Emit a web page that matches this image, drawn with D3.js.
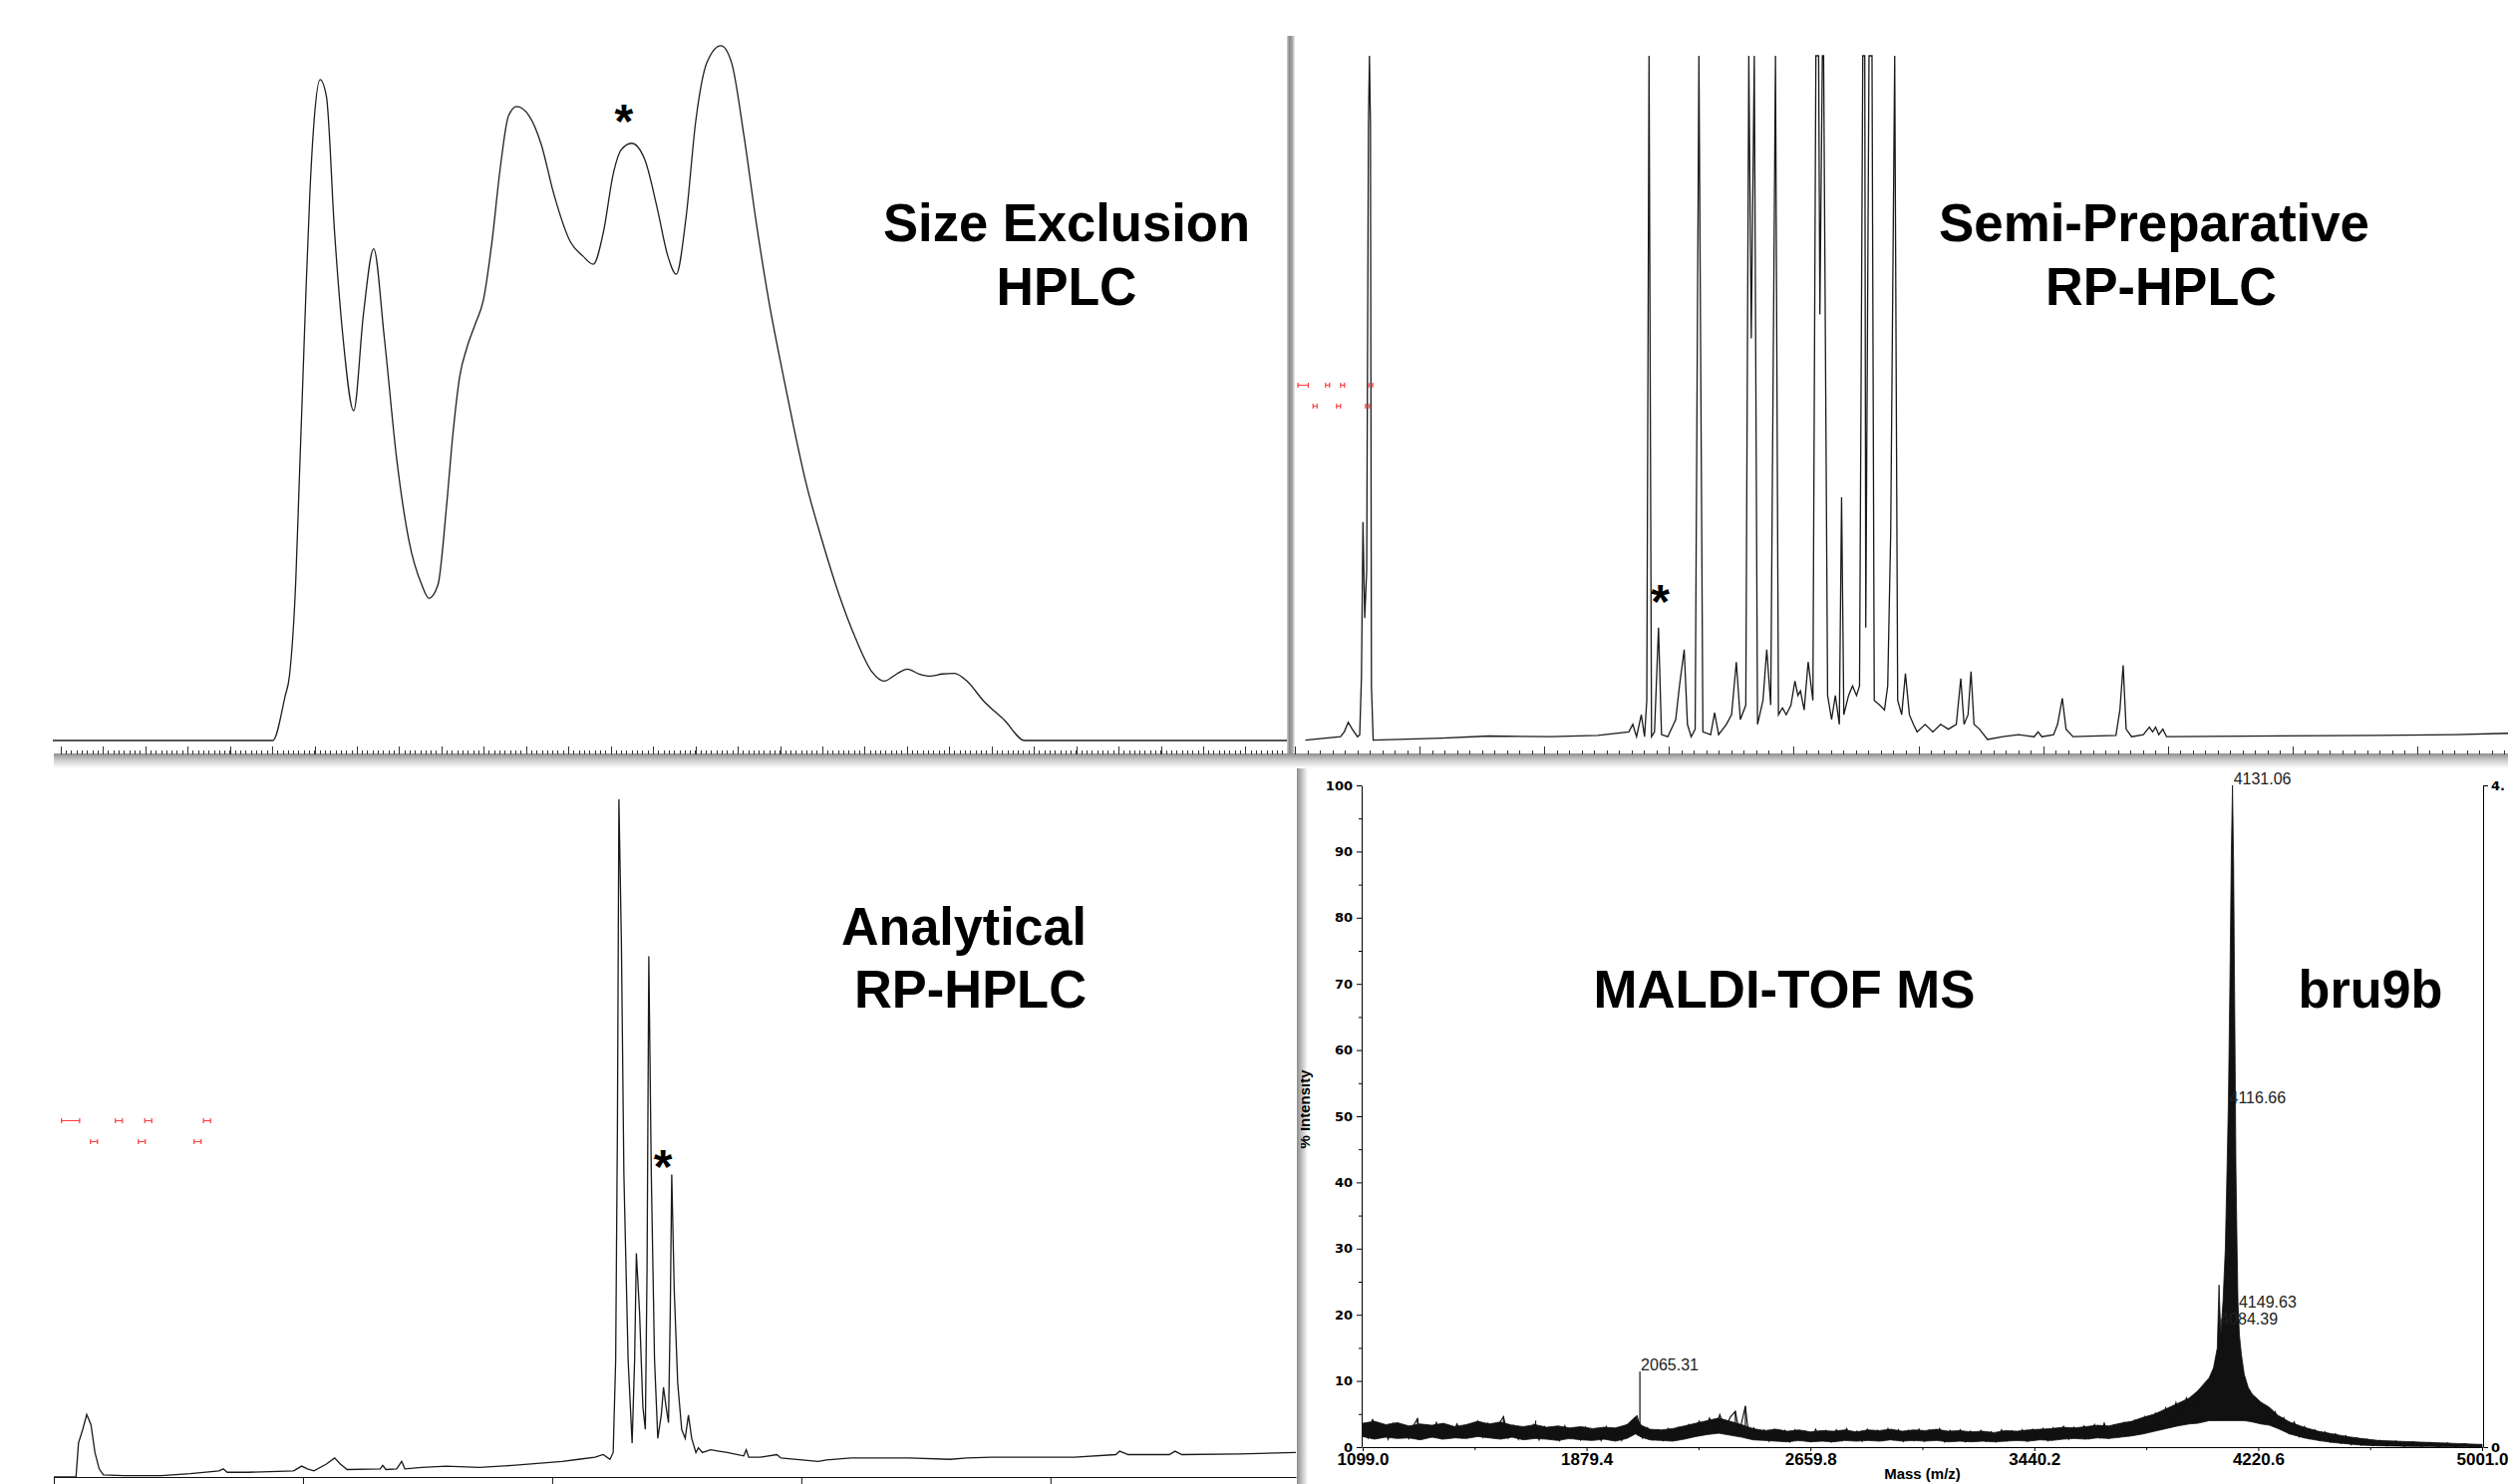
<!DOCTYPE html>
<html>
<head>
<meta charset="utf-8">
<script src="https://cdn.jsdelivr.net/npm/d3@7"></script>
<style>
  html, body { margin: 0; padding: 0; background: #fff; }
  svg { display: block; }
</style>
</head>
<body>
<div id="vis"></div>
<script>
// ---- size exclusion HPLC: [time (min), signal (mAU)] ----
var secTrace = [[0,0],[5.17,0],[5.46,63],[5.56,91],[5.71,227],[5.79,364],[5.87,500],[5.95,637],[6.04,773],[6.14,876],
  [6.28,934],[6.43,910],[6.62,719],[6.82,569],[7.07,466],[7.30,603],[7.54,695],[7.79,569],[8.08,398],[8.37,282],
  [8.67,220],[8.84,201],[9.05,220],[9.25,330],[9.40,432],[9.56,514],[9.73,555],[9.93,589],[10.12,623],[10.32,705],
  [10.51,807],[10.71,883],[10.90,896],[11.19,883],[11.48,842],[11.77,773],[12.16,705],[12.45,685],[12.70,673],[12.94,719],
  [13.17,801],[13.36,835],[13.60,844],[13.91,821],[14.20,753],[14.45,685],[14.65,659],[14.88,739],[15.11,876],[15.37,958],
  [15.70,982],[15.95,958],[16.24,855],[16.53,732],[16.82,623],[17.17,514],[17.40,446],[17.70,364],[18.08,282],[18.47,207],
  [18.86,145],[19.25,97],[19.54,84],[19.83,94],[20.08,101],[20.36,94],[20.61,91],[20.90,94],[21.19,95],[21.48,84],
  [21.87,56],[22.36,29],[22.84,0],[29,0]];
var secStar = [13.42, 890];
var secMajor = [0.18, 1.17, 2.17, 3.16, 4.16, 5.15, 6.15, 7.14, 8.14, 9.13, 10.12, 11.12, 12.11, 13.11, 14.10,
  15.10, 16.09, 17.09, 18.08, 19.07, 20.07, 21.06, 22.06, 23.05, 24.05, 25.04, 26.04, 27.03, 28.02];

// ---- semi-preparative RP-HPLC (values above 1000 run off scale) ----
var semiTrace = [[0.42,2],[1.83,7],[1.98,14],[2.14,28],[2.30,18],[2.51,7],[2.60,10],[2.67,95],[2.73,320],[2.80,180],
  [2.88,250],[2.95,900],[2.99,1400],[3.03,900],[3.07,80],[3.14,2],[5.89,5],[7.77,8],[10.27,7],[12.14,9],
  [13.39,14],[13.55,25],[13.70,7],[13.89,39],[14.02,7],[14.11,60],[14.20,1400],[14.30,7],[14.42,14],[14.58,166],
  [14.70,10],[14.95,7],[15.27,32],[15.42,81],[15.61,134],[15.74,25],[15.89,7],[16.05,18],[16.20,1400],[16.36,14],
  [16.67,10],[16.83,42],[16.99,10],[17.30,25],[17.51,39],[17.70,116],[17.86,32],[18.08,53],[18.20,1400],[18.30,588],
  [18.42,1400],[18.55,25],[18.77,60],[18.92,134],[19.08,53],[19.27,1400],[19.39,39],[19.55,49],[19.70,39],[19.89,53],
  [20.05,88],[20.17,67],[20.27,74],[20.42,46],[20.58,116],[20.77,60],[20.89,1400],[21.00,1400],[21.05,623],[21.15,1400],
  [21.20,1400],[21.36,67],[21.52,32],[21.67,67],[21.83,25],[21.92,356],[22.01,39],[22.20,67],[22.36,81],[22.52,67],
  [22.64,81],[22.77,1400],[22.85,1400],[22.89,166],[23.02,1400],[23.14,1400],[23.23,60],[23.45,53],[23.64,46],[23.77,81],
  [23.89,306],[24.05,1400],[24.17,60],[24.33,39],[24.48,99],[24.64,39],[24.80,25],[24.95,14],[25.27,25],[25.58,14],
  [25.89,25],[26.20,18],[26.52,25],[26.70,92],[26.83,25],[26.99,39],[27.11,102],[27.23,25],[27.45,18],[27.77,3],
  [28.39,7],[29.02,10],[29.64,7],[29.80,14],[29.95,7],[30.42,10],[30.58,25],[30.77,63],[30.92,18],[31.20,7],
  [32.92,9],[33.08,46],[33.21,111],[33.33,18],[33.55,7],[34.02,10],[34.26,21],[34.39,14],[34.51,21],[34.64,10],
  [34.80,18],[34.95,7],[35.11,7],[43.39,9],[46.52,10],[48.64,12]];
var semiStar = [14.65, 220];
var semiMarksTop = [0.33, 1.31, 1.91, 3.04];
var semiMarksLow = [0.81, 1.75, 2.91];
var semiMarkLevels = [520, 490];

// ---- analytical RP-HPLC ----
var anaTrace = [[0,0],[0.89,0],[0.99,50],[1.16,70],[1.32,92],[1.49,77],[1.65,36],[1.82,12],[1.99,3],[2.82,2],
  [4.31,2],[5.47,5],[6.63,9],[6.80,12],[6.96,7],[7.79,7],[9.62,9],[9.95,16],[10.18,12],[10.44,9],
  [10.94,19],[11.27,28],[11.50,19],[11.77,11],[13.10,12],[13.20,17],[13.33,11],[13.76,12],[13.96,23],[14.09,12],
  [14.76,14],[15.75,16],[17.08,14],[18.40,17],[19.40,20],[20.40,23],[21.06,26],[21.72,29],[22.05,33],[22.32,26],
  [22.45,36],[22.55,172],[22.62,513],[22.68,997],[22.78,786],[22.88,445],[23.05,172],[23.21,50],[23.31,172],[23.38,329],
  [23.51,241],[23.64,104],[23.74,70],[23.81,309],[23.88,766],[23.98,445],[24.11,172],[24.24,57],[24.38,91],[24.47,132],
  [24.57,104],[24.67,80],[24.74,241],[24.80,445],[24.90,275],[25.04,138],[25.20,70],[25.34,57],[25.47,91],[25.60,57],
  [25.77,36],[25.87,43],[26.03,36],[26.36,40],[26.70,38],[27.03,36],[27.69,31],[27.79,40],[27.89,29],[28.36,29],
  [29.02,33],[29.18,28],[30.68,23],[31.01,25],[32.00,28],[34.32,28],[35.98,26],[36.65,28],[37.64,29],[40.96,29],
  [42.62,33],[42.78,38],[43.12,33],[44.77,33],[45.00,38],[45.27,33],[47.59,34],[49.85,36]];
var anaStar = [24.45, 472];
var anaMarksTop = [0.67, 2.61, 3.79, 6.15];
var anaMarksLow = [1.61, 3.53, 5.77];
var anaMarkLevels = [525, 494];
var anaTicks = [0, 10, 20, 30, 40];

// ---- MALDI-TOF: noise band and main peak [m/z, low %, high %] ----
var msBand = [[1099,1.6,3.6],[1140,1.2,3.9],[1180,1.5,3.4],[1220,1.3,3.7],[1260,1.4,3.2],[1300,1.1,3.5],[1340,1.5,3.3],
  [1380,1.2,3.6],[1420,1.4,3.1],[1460,1.3,3.4],[1500,1.6,3.9],[1540,1.4,3.5],[1580,1.2,3.8],[1620,1.5,3.3],[1660,1.1,3.1],
  [1700,1.3,3.4],[1740,1.2,3.0],[1780,1.0,3.2],[1820,1.3,2.9],[1860,1.1,3.1],[1900,1.0,2.8],[1940,1.2,3.0],[1980,0.9,2.9],
  [2020,1.3,3.4],[2050,2.0,4.6],[2070,1.5,3.3],[2100,1.1,2.7],[2140,1.0,2.6],[2180,0.9,2.8],[2220,1.2,3.2],[2260,1.6,3.6],
  [2300,1.9,4.0],[2340,2.1,4.4],[2380,1.8,3.9],[2420,1.5,3.4],[2460,1.1,2.8],[2500,1.0,2.5],[2540,0.9,2.7],[2580,0.8,2.4],
  [2620,1.0,2.6],[2660,0.8,2.3],[2700,0.9,2.5],[2740,0.8,2.4],[2780,1.0,2.6],[2820,0.9,2.3],[2860,1.0,2.6],[2900,0.9,2.5],
  [2940,1.1,2.7],[2980,0.9,2.4],[3020,1.0,2.6],[3060,0.9,2.5],[3100,1.0,2.7],[3140,0.8,2.4],[3180,0.9,2.5],[3220,0.8,2.3],
  [3260,0.9,2.4],[3300,0.8,2.2],[3340,0.9,2.5],[3380,1.0,2.4],[3420,0.9,2.6],[3460,1.1,2.7],[3500,1.0,2.8],[3540,1.2,3.0],
  [3580,1.3,2.9],[3620,1.2,3.1],[3660,1.4,3.3],[3700,1.3,3.2],[3740,1.5,3.6],[3780,1.7,3.9],[3820,2.0,4.5],[3860,2.4,5.0],
  [3900,2.8,5.8],[3940,3.2,6.6],[3980,3.5,7.4],[4010,3.6,8.5],[4030,3.8,9.5],[4050,4.0,10.5],[4065,4.0,12],[4078,4.0,15],
  [4084,4.0,24.5],[4090,4.0,17],[4098,4.0,22],[4106,4.0,30],[4112,4.0,42],[4117,4.0,53],[4122,4.0,70],[4127,4.0,90],
  [4131,4.0,100],[4135,4.0,88],[4139,4.0,65],[4143,4.0,42],[4147,4.0,30],[4150,4.0,22],[4155,4.0,17],[4162,4.0,14],
  [4172,4.0,11],[4186,3.9,9],[4200,3.8,8],[4230,3.5,6.8],[4260,3.3,6.0],[4290,2.8,4.8],
  [4330,2.0,3.8],[4380,1.4,3.0],[4430,1.0,2.4],[4480,0.7,2.0],[4530,0.5,1.6],[4580,0.3,1.3],[4640,0.2,1.0],[4700,0.15,0.9],
  [4760,0.1,0.8],[4820,0.1,0.7],[4880,0.05,0.6],[4940,0.05,0.5],[5001,0,0.4]];
// raw trace read point by point (gives the ragged edge of the band)
var msTrace = [[1099,3.1],[1118,1.4],[1135,4.0],[1152,1.7],[1170,3.3],[1188,1.2],[1205,3.6],[1224,1.8],[1241,3.0],[1260,1.3],
  [1278,3.4],[1290,4.3],[1302,1.5],[1320,3.2],[1338,1.6],[1356,3.7],[1374,1.3],[1392,3.1],[1410,1.9],[1428,3.5],
  [1446,1.4],[1465,3.3],[1483,1.7],[1500,3.9],[1518,1.5],[1536,3.6],[1555,1.6],[1572,3.4],[1590,4.6],[1606,1.4],
  [1624,3.3],[1642,1.2],[1660,3.0],[1678,1.5],[1696,3.4],[1714,1.1],[1732,3.1],[1750,1.4],[1768,2.9],[1786,1.0],
  [1804,3.2],[1822,1.3],[1840,2.8],[1858,1.1],[1876,3.0],[1894,1.2],[1912,2.7],[1930,1.0],[1948,3.1],[1966,1.3],
  [1984,2.8],[2002,1.0],[2020,3.3],[2040,2.2],[2055,4.8],[2075,1.4],[2092,2.9],[2110,1.1],[2128,2.6],[2146,1.0],
  [2164,2.8],[2182,1.2],[2200,3.0],[2218,1.4],[2236,3.4],[2254,1.9],[2272,3.9],[2290,2.3],[2308,4.4],[2326,2.5],
  [2344,4.9],[2362,2.6],[2380,4.5],[2398,5.4],[2412,2.2],[2433,6.2],[2445,1.6],[2462,2.9],[2480,1.2],[2498,2.6],
  [2516,0.9],[2534,2.7],[2552,1.1],[2570,2.5],[2588,0.8],[2606,2.6],[2624,1.0],[2642,2.4],[2660,0.9],[2678,2.7],
  [2696,1.1],[2714,2.5],[2732,0.8],[2750,2.6],[2768,1.0],[2786,2.8],[2804,1.1],[2822,2.4],[2840,0.9],[2858,2.7],
  [2876,1.2],[2894,2.5],[2912,1.0],[2930,2.8],[2948,1.1],[2966,2.6],[2984,0.9],[3002,2.5],[3020,1.0],[3038,2.7],
  [3056,0.9],[3074,2.6],[3092,1.2],[3110,2.8],[3128,0.8],[3146,2.5],[3164,1.0],[3182,2.6],[3200,0.8],[3218,2.4],
  [3236,1.0],[3254,2.5],[3272,0.9],[3290,2.3],[3308,0.8],[3326,2.6],[3344,1.0],[3362,2.4],[3380,1.1],[3398,2.6],
  [3416,0.9],[3434,2.7],[3452,1.2],[3470,2.8],[3488,1.0],[3506,2.9],[3524,1.3],[3542,3.1],[3560,1.2],[3578,3.0],
  [3596,1.4],[3614,3.2],[3632,1.3],[3650,3.4],[3668,1.5],[3684,3.6],[3700,1.4],[3718,3.3],[3736,1.6],[3754,3.7],
  [3772,1.8],[3790,4.0],[3808,2.1],[3826,4.6],[3844,2.6],[3862,5.1],[3880,3.0],[3898,5.9],[3916,3.5],[3934,6.7],
  [3952,4.2],[3970,7.4],[3988,5.0],[4005,8.2],[4020,4.6],[4250,6.2],[4265,3.7],[4280,5.3],[4295,2.9],[4310,4.4],
  [4328,2.1],[4346,3.8],[4364,1.6],[4382,3.1],[4400,1.3],[4418,2.6],[4436,1.0],[4454,2.3],[4472,0.8],[4490,2.0],
  [4508,0.6],[4526,1.7],[4544,0.4],[4562,1.4],[4580,0.3],[4600,1.2],[4620,0.2],[4645,1.0],[4670,0.2],[4700,0.9],
  [4730,0.1],[4760,0.8],[4790,0.1],[4820,0.7],[4850,0.05],[4880,0.6],[4910,0.05],[4940,0.5],[4970,0.0],[5001,0.4]];
var msSpikeMz = [1132, 1290, 1590, 1702, 2065.31, 2398, 2433, 3684];
var msSpikePct = [4.2, 4.3, 4.6, 4.0, 11.4, 5.4, 6.2, 3.6];
var msLabelText = ["4131.06", "4116.66", "4149.63", "4084.39", "2065.31"];
var msLabelMz = [4131.06, 4116.66, 4149.63, 4084.39, 2065.31];
var msLabelPct = [100, 51.8, 20.9, 18.4, 11.4];
var msXTicks = [1099.0, 1879.4, 2659.8, 3440.2, 4220.6, 5001.0];
var msXMinor = [1489.2, 2269.6, 3050.0, 3830.4, 4610.8];
var msYTicks = [0, 10, 20, 30, 40, 50, 60, 70, 80, 90, 100];
var msYMinor = [5, 15, 25, 35, 45, 55, 65, 75, 85, 95];

var W = 2516, H = 1489;
var svg = d3.select("#vis").append("svg")
    .attr("width", W).attr("height", H)
    .style("font-family", "'Liberation Sans', Arial, sans-serif");
svg.append("rect").attr("width", W).attr("height", H).attr("fill", "#fff");

var defs = svg.append("defs");
function addGrad(id, x2, y2, stops) {
    var g = defs.append("linearGradient").attr("id", id)
        .attr("x1", 0).attr("y1", 0).attr("x2", x2).attr("y2", y2);
    stops.forEach(function(s) {
        g.append("stop").attr("offset", s[0]).attr("stop-color", s[1]);
    });
}
addGrad("edgeV", 1, 0, [[0, "#d4d4d4"], [0.3, "#8a8a8a"], [0.7, "#a8a8a8"], [1, "#f4f4f4"]]);
addGrad("edgeH", 0, 1, [[0, "#8e8e8e"], [0.45, "#cdcdcd"], [1, "#ffffff"]]);
addGrad("edgeL", 1, 0, [[0, "#8c8c8c"], [0.5, "#c6c6c6"], [1, "#ffffff"]]);
defs.append("clipPath").attr("id", "clipMs")
    .append("rect").attr("x", 1305).attr("y", 772).attr("width", W - 1305).attr("height", H - 772);

// panel edges (pasted screenshots)
svg.append("rect").attr("x", 1291).attr("y", 36).attr("width", 8).attr("height", 721).attr("fill", "url(#edgeV)");
svg.append("rect").attr("x", 54).attr("y", 756).attr("width", W - 54).attr("height", 15).attr("fill", "url(#edgeH)");
svg.append("rect").attr("x", 1301).attr("y", 771).attr("width", 11).attr("height", H - 771).attr("fill", "url(#edgeL)");

function tickRow(scale, values, yBase, len, stroke) {
    svg.append("g").selectAll("line").data(values).join("line")
        .attr("x1", function(d) { return Math.round(scale(d)) + 0.5; })
        .attr("x2", function(d) { return Math.round(scale(d)) + 0.5; })
        .attr("y1", yBase).attr("y2", yBase - len)
        .attr("stroke", stroke).attr("stroke-width", 1);
}

function marks(xs, ys, level, times, halfW, wideFirst) {
    svg.append("g").selectAll("path").data(times).join("path")
        .attr("d", function(d, i) {
            var w = (wideFirst && i === 0) ? halfW * 2.6 : halfW;
            var cx = xs(d), cy = Math.round(ys(level)) + 0.5;
            return "M" + (cx - w) + "," + (cy - 2.5) + "V" + (cy + 2.5) +
                   "M" + (cx - w) + "," + cy + "H" + (cx + w) +
                   "M" + (cx + w) + "," + (cy - 2.5) + "V" + (cy + 2.5);
        })
        .attr("fill", "none").attr("stroke", "#ff3b3b").attr("stroke-width", 1.2);
}

function title(txt, x, y, len, anchor) {
    svg.append("text").attr("x", x).attr("y", y)
        .attr("text-anchor", anchor || "middle")
        .attr("font-size", 54).attr("font-weight", "bold").attr("fill", "#000")
        .attr("textLength", len).attr("lengthAdjust", "spacingAndGlyphs")
        .text(txt);
}

function star(x, y) {
    svg.append("text").attr("x", x).attr("y", y + 27)
        .attr("text-anchor", "middle").attr("font-size", 48).attr("font-weight", "bold")
        .text("*");
}

// ---------- panel 1: size exclusion ----------
var x1 = d3.scaleLinear().domain([0, 29]).range([53, 1291]);
var y1 = d3.scaleLinear().domain([0, 1000]).range([743, 33]);
svg.append("path").datum(secTrace)
    .attr("d", d3.line().x(function(d) { return x1(d[0]); }).y(function(d) { return y1(d[1]); })
        .curve(d3.curveMonotoneX))
    .attr("fill", "none").attr("stroke", "#1e1e1e").attr("stroke-width", 1.3);
tickRow(x1, d3.range(0.18, 29, 0.1243), 757, 4, "#333");
tickRow(x1, secMajor, 757, 8, "#333");
star(x1(secStar[0]), y1(secStar[1]));
title("Size Exclusion", 1070, 242, 368);
title("HPLC", 1070, 306, 141);

// ---------- panel 2: semi-preparative ----------
var x2 = d3.scaleLinear().domain([0, 48.64]).range([1299, 2516]);
var y2 = d3.scaleLinear().domain([0, 1000]).range([744, 56]).clamp(true);
svg.append("path").datum(semiTrace)
    .attr("d", d3.line().x(function(d) { return x2(d[0]); }).y(function(d) { return y2(d[1]); }))
    .attr("fill", "none").attr("stroke", "#1a1a1a").attr("stroke-width", 1.3);
tickRow(x2, d3.range(0, 48.6, 0.5), 757, 4, "#333");
tickRow(x2, d3.range(0, 48.6, 5), 757, 8, "#333");
marks(x2, y2, semiMarkLevels[0], semiMarksTop, 2, true);
marks(x2, y2, semiMarkLevels[1], semiMarksLow, 2, false);
star(x2(semiStar[0]), y2(semiStar[1]));
title("Semi-Preparative", 2161, 242, 432);
title("RP-HPLC", 2168, 306, 232);

// ---------- panel 3: analytical ----------
var x3 = d3.scaleLinear().domain([0, 49.85]).range([54, 1300]);
var y3 = d3.scaleLinear().domain([0, 1000]).range([1482, 800]);
var ax3 = svg.append("g").attr("transform", "translate(0,1482)")
    .call(d3.axisBottom(x3).tickValues(anaTicks).tickSize(7).tickSizeOuter(0).tickFormat(""));
ax3.selectAll("path, line").attr("stroke", "#111");
svg.append("path").datum(anaTrace)
    .attr("d", d3.line().x(function(d) { return x3(d[0]); }).y(function(d) { return y3(d[1]); }))
    .attr("fill", "none").attr("stroke", "#1a1a1a").attr("stroke-width", 1.3);
marks(x3, y3, anaMarkLevels[0], anaMarksTop, 3.5, true);
marks(x3, y3, anaMarkLevels[1], anaMarksLow, 3.5, false);
star(x3(anaStar[0]), y3(anaStar[1]));
title("Analytical", 1090, 948, 246, "end");
title("RP-HPLC", 1090, 1011, 233, "end");

// ---------- panel 4: MALDI-TOF ----------
var xm = d3.scaleLinear().domain([1099, 5001]).range([1367, 2490]);
var ym = d3.scaleLinear().domain([0, 100]).range([1452, 788]);
var ms = svg.append("g").attr("clip-path", "url(#clipMs)");

ms.append("text")
    .attr("transform", "translate(1314,1113) rotate(-90)")
    .attr("text-anchor", "middle").attr("font-size", 15).attr("font-weight", "bold")
    .text("% Intensity");

var yAx = ms.append("g").attr("transform", "translate(1366,0)")
    .call(d3.axisLeft(ym).tickValues(msYTicks).tickSize(5).tickSizeOuter(0).tickPadding(4));
yAx.selectAll("text").attr("font-family", "'DejaVu Sans', sans-serif")
    .attr("font-weight", "bold").attr("font-size", 13).attr("fill", "#000");
ms.append("g").attr("transform", "translate(1366,0)")
    .call(d3.axisLeft(ym).tickValues(msYMinor).tickSize(3).tickFormat(""))
    .select(".domain").remove();

var xAx = ms.append("g").attr("transform", "translate(0,1452)")
    .call(d3.axisBottom(xm).tickValues(msXTicks).tickSize(4).tickSizeOuter(0)
        .tickPadding(2).tickFormat(d3.format(".1f")));
xAx.selectAll("text").attr("font-family", "'Liberation Sans', Arial, sans-serif")
    .attr("font-weight", "bold").attr("font-size", 17).attr("fill", "#000");
ms.append("g").attr("transform", "translate(0,1452)")
    .call(d3.axisBottom(xm).tickValues(msXMinor).tickSize(3).tickFormat(""))
    .select(".domain").remove();
ms.selectAll(".domain, .tick line").attr("stroke", "#000");

// right-hand axis
ms.append("line").attr("x1", 2491.5).attr("x2", 2491.5).attr("y1", ym(100)).attr("y2", ym(0))
    .attr("stroke", "#000");
ms.selectAll(".rtick").data([0, 100]).join("line")
    .attr("x1", 2491.5).attr("x2", 2496).attr("y1", function(d) { return ym(d) + 0.5; })
    .attr("y2", function(d) { return ym(d) + 0.5; }).attr("stroke", "#000");
ms.append("text").attr("x", 2499).attr("y", ym(100) + 5).attr("font-family", "'DejaVu Sans', sans-serif")
    .attr("font-weight", "bold").attr("font-size", 13).text("4.");
ms.append("text").attr("x", 2499).attr("y", ym(0) + 5).attr("font-family", "'DejaVu Sans', sans-serif")
    .attr("font-weight", "bold").attr("font-size", 13).text("0");

ms.append("path").datum(msBand)
    .attr("d", d3.area().x(function(d) { return xm(d[0]); })
        .y0(function(d) { return ym(d[1]); }).y1(function(d) { return ym(d[2]); }))
    .attr("fill", "#111").attr("stroke", "#111").attr("stroke-width", 0.8);

ms.append("path").datum(msTrace)
    .attr("d", d3.line().x(function(d) { return xm(d[0]); }).y(function(d) { return ym(d[1]); }))
    .attr("fill", "none").attr("stroke", "#111").attr("stroke-width", 1.2);

ms.selectAll(".spike").data(msSpikeMz).join("line")
    .attr("x1", function(d) { return xm(d); }).attr("x2", function(d) { return xm(d); })
    .attr("y1", ym(2)).attr("y2", function(d, i) { return ym(msSpikePct[i]); })
    .attr("stroke", "#111").attr("stroke-width", 1.2);

ms.selectAll(".plab").data(msLabelText).join("text")
    .attr("x", function(d, i) { return xm(msLabelMz[i]) + 1; })
    .attr("y", function(d, i) { return ym(msLabelPct[i]) - 1; })
    .attr("font-size", 16).attr("fill", "#222").text(function(d) { return d; });

ms.append("text").attr("x", (xm(1099) + xm(5001)) / 2).attr("y", 1484)
    .attr("text-anchor", "middle").attr("font-size", 15).attr("font-weight", "bold")
    .text("Mass (m/z)");

title("MALDI-TOF MS", 1790, 1011, 383);
title("bru9b", 2378, 1011, 145);
</script>
</body>
</html>
